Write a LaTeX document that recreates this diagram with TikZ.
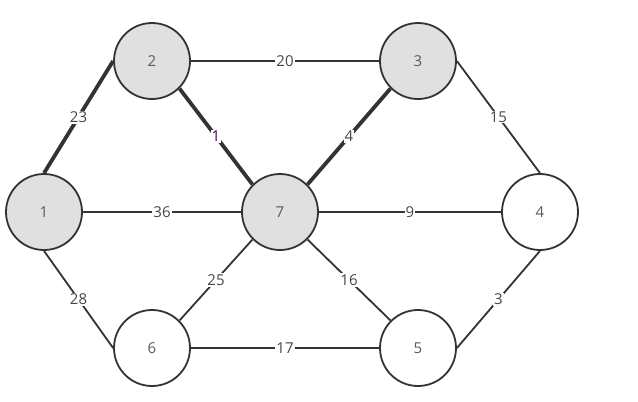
\documentclass[tikz,border=0pt]{standalone}
\usepackage{fontspec}
\setmainfont{Open Sans}
\begin{document}
\begin{tikzpicture}[x=1pt,y=-1pt,
  vtx/.style={circle,draw=black!80,line width=1.8pt,minimum size=76pt,inner sep=0pt,font=\fontsize{15}{15}\selectfont,text=black!65},
  done/.style={vtx,fill=black!12},
  open/.style={vtx,fill=white},
  edge/.style={draw=black!80,line width=1.8pt},
  heavy/.style={draw=black!80,line width=3.8pt},
  wt/.style={fill=white,inner sep=1pt,font=\fontsize{15}{15}\selectfont,text=black!72}]
\useasboundingbox (0,0) rectangle (638,402);
\node[done] (n1) at (44,212) {1};
\node[done] (n2) at (152,61) {2};
\node[done] (n3) at (418,61) {3};
\node[open] (n4) at (540,212) {4};
\node[open] (n5) at (418,348) {5};
\node[open] (n6) at (152,348) {6};
\node[done] (n7) at (280,212) {7};
\path[heavy] (n1.north) -- node[wt] {23} (n2.west);
\path[edge] (n2.east) -- node[wt] {20} (n3.west);
\path[heavy] (n2.south east) -- node[wt,text=violet!60!black] {1} (n7.north west);
\path[heavy] (n3.south west) -- node[wt] {4} (n7.north east);
\path[edge] (n3.east) -- node[wt] {15} (n4.north);
\path[edge] (n1.east) -- node[wt] {36} (n7.west);
\path[edge] (n7.east) -- node[wt] {9} (n4.west);
\path[edge] (n1.south) -- node[wt] {28} (n6.west);
\path[edge] (n6.north east) -- node[wt] {25} (n7.south west);
\path[edge] (n7.south east) -- node[wt] {16} (n5.north west);
\path[edge] (n6.east) -- node[wt] {17} (n5.west);
\path[edge] (n5.east) -- node[wt] {3} (n4.south);
\end{tikzpicture}
\end{document}
